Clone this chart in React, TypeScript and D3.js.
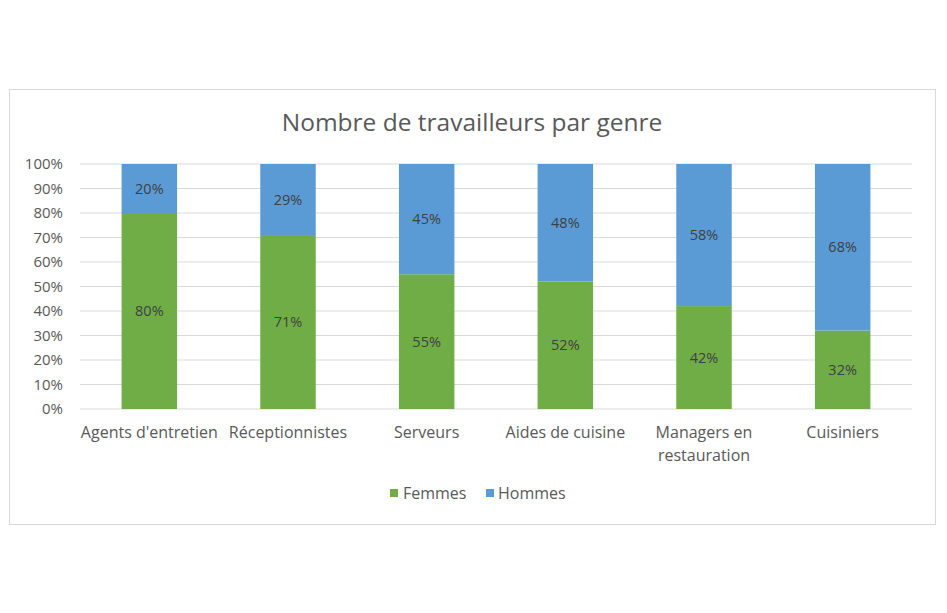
import React from "react";
import * as d3 from "d3";

const categories = [
  ["Agents d'entretien"],
  ["Réceptionnistes"],
  ["Serveurs"],
  ["Aides de cuisine"],
  ["Managers en", "restauration"],
  ["Cuisiniers"],
];
const femmes = [80, 71, 55, 52, 42, 32];
const hommes = [20, 29, 45, 48, 58, 68];
const yTicks = [0, 10, 20, 30, 40, 50, 60, 70, 80, 90, 100];
const seriesNames = ["Femmes", "Hommes"];
const colors = ["#70AD47", "#5B9BD5"];

const W = 947;
const H = 613;
const font = "'Open Sans', 'Noto Sans', sans-serif";

export default function App() {
  const x = d3
    .scaleBand<number>()
    .domain(categories.map((_, i) => i))
    .range([80, 912])
    .paddingInner(0.6)
    .paddingOuter(0.3);
  const y = d3.scaleLinear().domain([0, 100]).range([409, 164]);

  const stackData = categories.map((_, i) => ({ i, Femmes: femmes[i], Hommes: hommes[i] }));
  const stack = d3.stack<any>().keys(seriesNames)(stackData);

  return (
    <svg
      width={W}
      height={H}
      style={{ position: "absolute", left: 0, top: 0, background: "#fff" }}
      fontFamily={font}
    >
      <rect x={9.5} y={89.5} width={926} height={435} fill="#fff" stroke="#d9d9d9" />
      <text x={472} y={131} textAnchor="middle" fontSize={24.5} fill="#595959">
        Nombre de travailleurs par genre
      </text>
      {yTicks.map((t) => (
        <g key={t}>
          <line x1={80} x2={912} y1={y(t)} y2={y(t)} stroke="#d9d9d9" strokeWidth={1} />
          <text x={63} y={y(t)} dy="0.35em" textAnchor="end" fontSize={15} fill="#595959">
            {t}%
          </text>
        </g>
      ))}
      {stack.map((s, si) =>
        s.map((d, i) => (
          <g key={`${si}-${i}`}>
            <rect
              x={x(i)}
              width={x.bandwidth()}
              y={y(d[1])}
              height={y(d[0]) - y(d[1])}
              fill={colors[si]}
            />
            <text
              x={(x(i) as number) + x.bandwidth() / 2}
              y={(y(d[0]) + y(d[1])) / 2}
              dy="0.35em"
              textAnchor="middle"
              fontSize={14.5}
              fill="#404040"
            >
              {d[1] - d[0]}%
            </text>
          </g>
        ))
      )}
      {categories.map((lines, i) => (
        <text
          key={i}
          x={(x(i) as number) + x.bandwidth() / 2}
          y={438}
          textAnchor="middle"
          fontSize={16}
          fill="#595959"
        >
          {lines.map((l, li) => (
            <tspan key={li} x={(x(i) as number) + x.bandwidth() / 2} dy={li === 0 ? 0 : 23}>
              {l}
            </tspan>
          ))}
        </text>
      ))}
      <g>
        <rect x={390} y={489} width={8} height={8} fill={colors[0]} />
        <text x={403} y={499} fontSize={16} fill="#595959">{seriesNames[0]}</text>
        <rect x={486} y={489} width={8} height={8} fill={colors[1]} />
        <text x={498} y={499} fontSize={16} fill="#595959">{seriesNames[1]}</text>
      </g>
    </svg>
  );
}
